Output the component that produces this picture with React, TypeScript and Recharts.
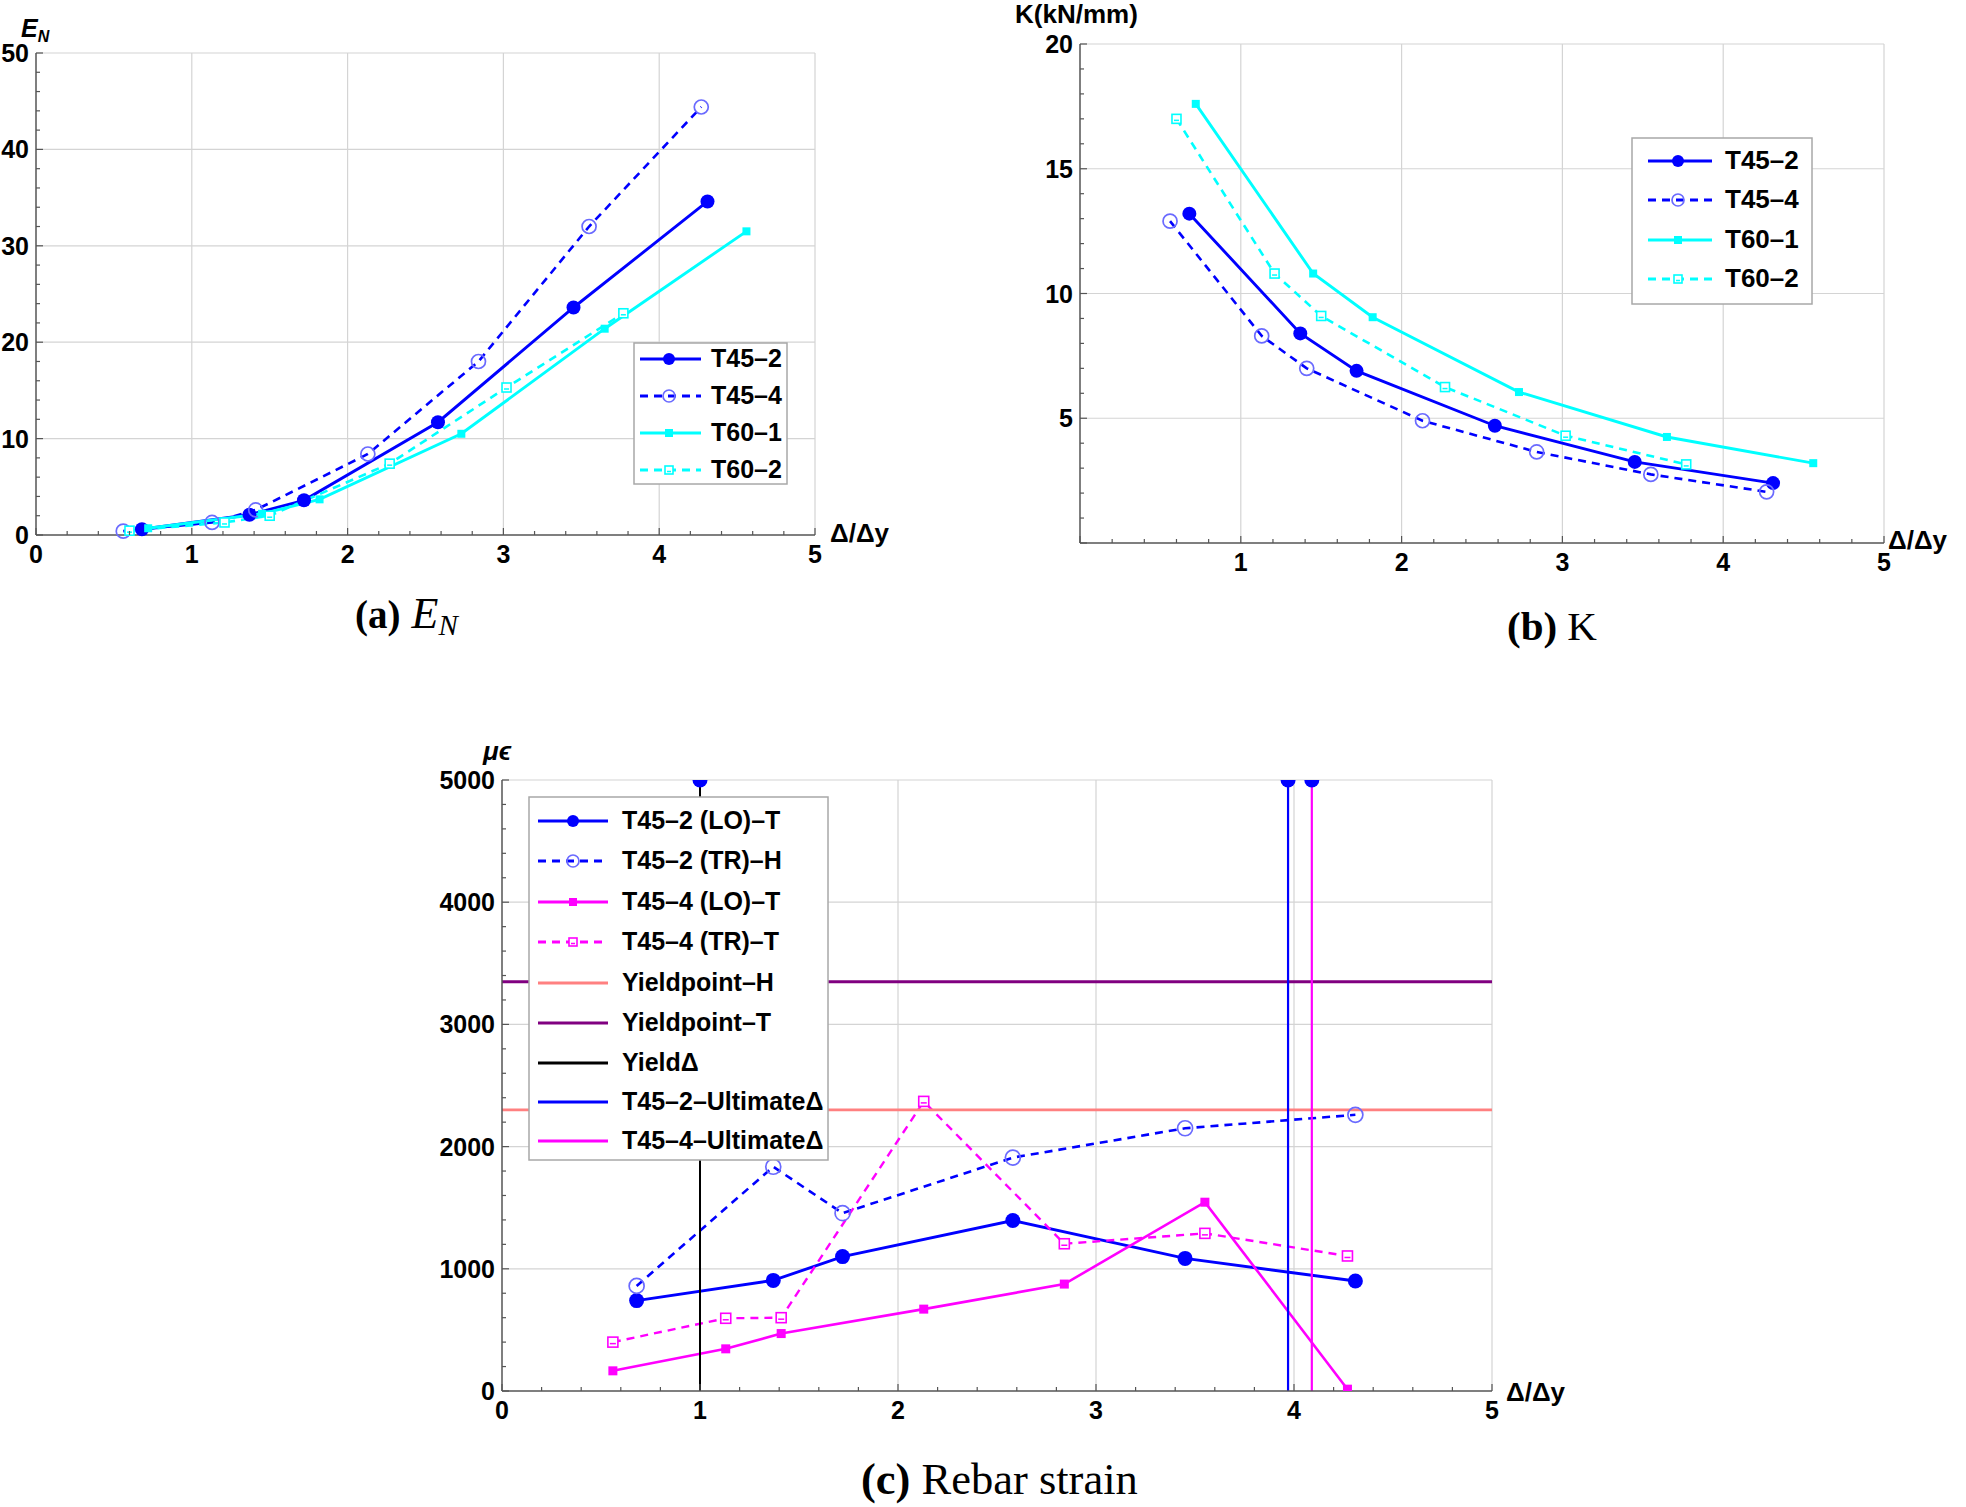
import React from 'react';
import { LineChart, Line, XAxis, YAxis, ReferenceLine, Legend } from 'recharts';

const FONT = "'Liberation Sans', Arial, Helvetica, sans-serif";
const SERIF = "'Liberation Serif', 'Times New Roman', serif";

const BLUE = '#0000ff';
const OPEN_BLUE = '#6a6aff';
const CYAN = '#00ffff';
const MAGENTA = '#ff00ff';
const PINK = '#ff8080';
const PURPLE = '#800080';
const BLACK = '#000000';
const GRID = '#d4d4d4';
const AXIS = '#555555';

// ---- x positions (Δ/Δy) ----
const xT45_2 = [0.68, 1.37, 1.72, 2.58, 3.45, 4.31];
const xT45_4 = [0.56, 1.13, 1.41, 2.13, 2.84, 3.55, 4.27];
const xT60_1 = [0.72, 1.45, 1.82, 2.73, 3.65, 4.56];
const xT60_2 = [0.6, 1.21, 1.5, 2.27, 3.02, 3.77];

// ---- (a) E_N ----
const enT45_2 = [0.6, 2.1, 3.6, 11.7, 23.6, 34.6];
const enT45_4 = [0.4, 1.3, 2.6, 8.4, 18.0, 32.0, 44.4];
const enT60_1 = [0.7, 2.2, 3.7, 10.5, 21.4, 31.5];
const enT60_2 = [0.45, 1.3, 2.0, 7.4, 15.3, 23.0];

// ---- (b) K (kN/mm) ----
const kT45_2 = [13.2, 8.4, 6.9, 4.7, 3.25, 2.4];
const kT45_4 = [12.9, 8.3, 7.0, 4.9, 3.65, 2.75, 2.05];
const kT60_1 = [17.6, 10.8, 9.05, 6.05, 4.25, 3.2];
const kT60_2 = [17.0, 10.8, 9.1, 6.25, 4.3, 3.15];

// ---- (c) rebar strain (με) ----
const sT45_2_LO = [740, 905, 1100, 1395, 1085, 900];
const sT45_2_TR = [860, 1835, 1455, 1910, 2150, 2260];
const sT45_4_LO = [165, 345, 470, 670, 875, 1545, 15];
const sT45_4_TR = [400, 595, 600, 2370, 1205, 1290, 1105];
const yieldPointH = 2300;
const yieldPointT = 3350;
const yieldDelta = 1;
const ultimateT45_2 = 3.97;
const ultimateT45_4 = 4.09;
const strainTop = 5000;

// ---- tick labels ----
const xMajor = [0, 1, 2, 3, 4, 5];
const xLabelsA = [0, 1, 2, 3, 4, 5];
const xLabelsB = [1, 2, 3, 4, 5];
const xLabelsC = [0, 1, 2, 3, 4, 5];
const yLabelsA = [0, 10, 20, 30, 40, 50];
const yLabelsB = [5, 10, 15, 20];
const yMajorB = [0, 5, 10, 15, 20];
const yLabelsC = [0, 1000, 2000, 3000, 4000, 5000];
const gridX = [1, 2, 3, 4, 5];
const gridYA = [10, 20, 30, 40, 50];
const gridYB = [5, 10, 15, 20];
const gridYC = [1000, 2000, 3000, 4000, 5000];

const range = (start: number, end: number, step: number) => {
  const out: number[] = [];
  const n = Math.round((end - start) / step);
  for (let i = 0; i <= n; i++) out.push(+(start + i * step).toFixed(6));
  return out;
};
const xMinor = range(0, 5, 0.2);
const yMinorA = range(0, 50, 2);
const yMinorB = range(0, 20, 1);
const yMinorC = range(0, 5000, 200);

const pts = (xs: number[], ys: number[]) => xs.map((x, i) => ({ x, y: ys[i] }));
const has = (arr: number[], v: number) => arr.some((m) => Math.abs(m - v) < 1e-6);

type Kind = 'disc' | 'ring' | 'square' | 'openSquare';

function Marker({ kind, cx, cy, color, size }: { kind: Kind; cx: number; cy: number; color: string; size: number }) {
  if (cx == null || cy == null || isNaN(cx) || isNaN(cy)) return <g />;
  switch (kind) {
    case 'disc':
      return <circle cx={cx} cy={cy} r={size} fill={color} />;
    case 'ring':
      return <circle cx={cx} cy={cy} r={size} fill="none" stroke={color} strokeWidth={1.7} />;
    case 'square':
      return <rect x={cx - size / 2} y={cy - size / 2} width={size} height={size} fill={color} />;
    case 'openSquare':
      return (
        <g>
          <rect x={cx - size / 2} y={cy - size / 2} width={size} height={size} fill="#fff" stroke={color} strokeWidth={1.6} />
          <line x1={cx - size / 2 + 2} x2={cx + size / 2 - 2} y1={cy + 1.5} y2={cy + 1.5} stroke={color} strokeWidth={1.5} />
        </g>
      );
  }
  return <g />;
}

const dotFn = (kind: Kind, color: string, size: number) => (p: any) => (
  <Marker key={`m-${p.index}`} kind={kind} cx={p.cx} cy={p.cy} color={color} size={size} />
);
const topDotFn = (color: string, size: number) => (p: any) =>
  p.index === 1 ? <Marker key={`t-${p.index}`} kind="disc" cx={p.cx} cy={p.cy} color={color} size={size} /> : <g key={`t-${p.index}`} />;

const TICK_FONT = 25;

function XTick(props: any) {
  const { x, y, payload, labels, majors } = props;
  const v = payload.value;
  const major = has(majors, v);
  return (
    <g>
      <line x1={x} x2={x} y1={y} y2={y - (major ? 7 : 4)} stroke={AXIS} strokeWidth={1.2} />
      {has(labels, v) && (
        <text x={x} y={y + 19} textAnchor="middle" dominantBaseline="central" fontFamily={FONT} fontWeight="bold" fontSize={TICK_FONT} fill="#000">
          {v}
        </text>
      )}
    </g>
  );
}

function YTick(props: any) {
  const { x, y, payload, labels, majors } = props;
  const v = payload.value;
  const major = has(majors, v);
  return (
    <g>
      <line x1={x} x2={x + (major ? 7 : 4)} y1={y} y2={y} stroke={AXIS} strokeWidth={1.2} />
      {has(labels, v) && (
        <text x={x - 7} y={y} textAnchor="end" dominantBaseline="central" fontFamily={FONT} fontWeight="bold" fontSize={TICK_FONT} fill="#000">
          {v}
        </text>
      )}
    </g>
  );
}

type Item = { name: string; color: string; dash?: string; kind?: Kind; markerColor?: string; width?: number };

function LegendBox(props: {
  W: number; H: number; bx: number; by: number; bw: number; bh: number;
  rows: number[]; lx0: number; lx1: number; mx: number; tx: number; fontSize: number; items: Item[];
}) {
  const { W, H, bx, by, bw, bh, rows, lx0, lx1, mx, tx, fontSize, items } = props;
  return (
    <svg width={W} height={H} style={{ display: 'block', pointerEvents: 'none' }}>
      <rect x={bx} y={by} width={bw} height={bh} fill="#fff" stroke="#a8a8a8" strokeWidth={1.5} />
      {items.map((it, i) => {
        const y = by + rows[i];
        return (
          <g key={it.name}>
            <line x1={bx + lx0} x2={bx + lx1} y1={y} y2={y} stroke={it.color} strokeWidth={it.width ?? 2.8} strokeDasharray={it.dash} />
            {it.kind && (
              <Marker kind={it.kind} cx={bx + mx} cy={y} color={it.markerColor ?? it.color} size={it.kind === 'disc' || it.kind === 'ring' ? 6 : 8} />
            )}
            <text x={bx + tx} y={y - 1} dominantBaseline="central" fontFamily={FONT} fontWeight="bold" fontSize={fontSize} fill="#000">
              {it.name}
            </text>
          </g>
        );
      })}
    </svg>
  );
}

const DASH = '8 6';
const axisLineStyle = { stroke: AXIS, strokeWidth: 1.5 };

const itemsAB: Item[] = [
  { name: 'T45–2', color: BLUE, kind: 'disc' },
  { name: 'T45–4', color: BLUE, dash: DASH, kind: 'ring', markerColor: OPEN_BLUE },
  { name: 'T60–1', color: CYAN, kind: 'square' },
  { name: 'T60–2', color: CYAN, dash: DASH, kind: 'openSquare' },
];

const itemsC: Item[] = [
  { name: 'T45–2 (LO)–T', color: BLUE, kind: 'disc' },
  { name: 'T45–2 (TR)–H', color: BLUE, dash: DASH, kind: 'ring', markerColor: OPEN_BLUE },
  { name: 'T45–4 (LO)–T', color: MAGENTA, kind: 'square' },
  { name: 'T45–4 (TR)–T', color: MAGENTA, dash: DASH, kind: 'openSquare' },
  { name: 'Yieldpoint–H', color: PINK },
  { name: 'Yieldpoint–T', color: PURPLE, width: 3 },
  { name: 'YieldΔ', color: BLACK },
  { name: 'T45–2–UltimateΔ', color: BLUE },
  { name: 'T45–4–UltimateΔ', color: MAGENTA },
];

function ChartA() {
  const W = 900, H = 600;
  return (
    <LineChart width={W} height={H} margin={{ top: 53, right: 85, bottom: 0, left: 0 }}>
      <XAxis type="number" dataKey="x" domain={[0, 5]} ticks={xMinor} interval={0} tickSize={0} tickMargin={0} tickLine={false}
        axisLine={axisLineStyle} height={65} tick={(p: any) => <XTick {...p} labels={xLabelsA} majors={xMajor} />} />
      <YAxis type="number" domain={[0, 50]} ticks={yMinorA} interval={0} tickSize={0} tickMargin={0} tickLine={false}
        axisLine={axisLineStyle} width={36} tick={(p: any) => <YTick {...p} labels={yLabelsA} majors={yLabelsA} />} />
      {gridX.map((v) => <ReferenceLine key={`gx${v}`} x={v} stroke={GRID} strokeWidth={1.2} zIndex={-10} />)}
      {gridYA.map((v) => <ReferenceLine key={`gy${v}`} y={v} stroke={GRID} strokeWidth={1.2} zIndex={-10} />)}
      <Line data={pts(xT45_2, enT45_2)} dataKey="y" stroke={BLUE} strokeWidth={2.9} isAnimationActive={false} dot={dotFn('disc', BLUE, 7)} activeDot={false} />
      <Line data={pts(xT45_4, enT45_4)} dataKey="y" stroke={BLUE} strokeWidth={2.6} strokeDasharray={DASH} isAnimationActive={false} dot={dotFn('ring', OPEN_BLUE, 7)} activeDot={false} />
      <Line data={pts(xT60_1, enT60_1)} dataKey="y" stroke={CYAN} strokeWidth={2.9} isAnimationActive={false} dot={dotFn('square', CYAN, 8)} activeDot={false} />
      <Line data={pts(xT60_2, enT60_2)} dataKey="y" stroke={CYAN} strokeWidth={2.6} strokeDasharray={DASH} isAnimationActive={false} dot={dotFn('openSquare', CYAN, 9)} activeDot={false} />
      <Legend layout="vertical" align="center" verticalAlign="middle" wrapperStyle={{ left: 0, top: 0, width: W, height: H }}
        content={() => <LegendBox W={W} H={H} bx={634} by={343} bw={153} bh={141} rows={[16, 53, 90, 127]} lx0={6} lx1={67} mx={35} tx={77} fontSize={25} items={itemsAB} />} />
    </LineChart>
  );
}

function ChartB() {
  const W = 966, H = 600;
  return (
    <LineChart width={W} height={H} margin={{ top: 44, right: 82, bottom: 0, left: 0 }}>
      <XAxis type="number" dataKey="x" domain={[0, 5]} ticks={xMinor} interval={0} tickSize={0} tickMargin={0} tickLine={false}
        axisLine={axisLineStyle} height={57} tick={(p: any) => <XTick {...p} labels={xLabelsB} majors={xMajor} />} />
      <YAxis type="number" domain={[0, 20]} ticks={yMinorB} interval={0} tickSize={0} tickMargin={0} tickLine={false}
        axisLine={axisLineStyle} width={80} tick={(p: any) => <YTick {...p} labels={yLabelsB} majors={yMajorB} />} />
      {gridX.map((v) => <ReferenceLine key={`gx${v}`} x={v} stroke={GRID} strokeWidth={1.2} zIndex={-10} />)}
      {gridYB.map((v) => <ReferenceLine key={`gy${v}`} y={v} stroke={GRID} strokeWidth={1.2} zIndex={-10} />)}
      <Line data={pts(xT45_2, kT45_2)} dataKey="y" stroke={BLUE} strokeWidth={2.9} isAnimationActive={false} dot={dotFn('disc', BLUE, 7)} activeDot={false} />
      <Line data={pts(xT45_4, kT45_4)} dataKey="y" stroke={BLUE} strokeWidth={2.6} strokeDasharray={DASH} isAnimationActive={false} dot={dotFn('ring', OPEN_BLUE, 7)} activeDot={false} />
      <Line data={pts(xT60_1, kT60_1)} dataKey="y" stroke={CYAN} strokeWidth={2.9} isAnimationActive={false} dot={dotFn('square', CYAN, 8)} activeDot={false} />
      <Line data={pts(xT60_2, kT60_2)} dataKey="y" stroke={CYAN} strokeWidth={2.6} strokeDasharray={DASH} isAnimationActive={false} dot={dotFn('openSquare', CYAN, 9)} activeDot={false} />
      <Legend layout="vertical" align="center" verticalAlign="middle" wrapperStyle={{ left: 0, top: 0, width: W, height: H }}
        content={() => <LegendBox W={W} H={H} bx={632} by={138} bw={180} bh={166} rows={[23, 62, 102, 141]} lx0={16} lx1={80} mx={46} tx={93} fontSize={26} items={itemsAB} />} />
    </LineChart>
  );
}

function ChartC() {
  const W = 1200, H = 760;
  return (
    <LineChart width={W} height={H} margin={{ top: 80, right: 108, bottom: 0, left: 0 }}>
      <XAxis type="number" dataKey="x" domain={[0, 5]} ticks={xMinor} interval={0} tickSize={0} tickMargin={0} tickLine={false}
        axisLine={axisLineStyle} height={69} tick={(p: any) => <XTick {...p} labels={xLabelsC} majors={xMajor} />} />
      <YAxis type="number" domain={[0, 5000]} allowDataOverflow ticks={yMinorC} interval={0} tickSize={0} tickMargin={0} tickLine={false}
        axisLine={axisLineStyle} width={102} tick={(p: any) => <YTick {...p} labels={yLabelsC} majors={yLabelsC} />} />
      {gridX.map((v) => <ReferenceLine key={`gx${v}`} x={v} stroke={GRID} strokeWidth={1.2} zIndex={-10} />)}
      {gridYC.map((v) => <ReferenceLine key={`gy${v}`} y={v} stroke={GRID} strokeWidth={1.2} zIndex={-10} />)}
      <Line data={pts(xT45_2, sT45_2_LO)} dataKey="y" stroke={BLUE} strokeWidth={2.9} isAnimationActive={false} dot={dotFn('disc', BLUE, 7.5)} activeDot={false} />
      <Line data={pts(xT45_2, sT45_2_TR)} dataKey="y" stroke={BLUE} strokeWidth={2.6} strokeDasharray={DASH} isAnimationActive={false} dot={dotFn('ring', OPEN_BLUE, 7.5)} activeDot={false} />
      <Line data={pts(xT45_4, sT45_4_LO)} dataKey="y" stroke={MAGENTA} strokeWidth={2.6} isAnimationActive={false} dot={dotFn('square', MAGENTA, 9)} activeDot={false} />
      <Line data={pts(xT45_4, sT45_4_TR)} dataKey="y" stroke={MAGENTA} strokeWidth={2.4} strokeDasharray={DASH} isAnimationActive={false} dot={dotFn('openSquare', MAGENTA, 10)} activeDot={false} />
      <Line data={pts([0, 5], [yieldPointH, yieldPointH])} dataKey="y" stroke={PINK} strokeWidth={2.8} isAnimationActive={false} dot={false} activeDot={false} />
      <Line data={pts([0, 5], [yieldPointT, yieldPointT])} dataKey="y" stroke={PURPLE} strokeWidth={3} isAnimationActive={false} dot={false} activeDot={false} />
      <Line data={pts([yieldDelta, yieldDelta], [0, strainTop])} dataKey="y" stroke={BLACK} strokeWidth={2} isAnimationActive={false} dot={topDotFn(BLUE, 7.5)} activeDot={false} />
      <Line data={pts([ultimateT45_2, ultimateT45_2], [0, strainTop])} dataKey="y" stroke={BLUE} strokeWidth={2.2} isAnimationActive={false} dot={topDotFn(BLUE, 7.5)} activeDot={false} />
      <Line data={pts([ultimateT45_4, ultimateT45_4], [0, strainTop])} dataKey="y" stroke={MAGENTA} strokeWidth={2.2} isAnimationActive={false} dot={topDotFn(BLUE, 7.5)} activeDot={false} />
      <Legend layout="vertical" align="center" verticalAlign="middle" wrapperStyle={{ left: 0, top: 0, width: W, height: H }}
        content={() => <LegendBox W={W} H={H} bx={129} by={97} bw={299} bh={363} rows={[24, 64, 105, 145, 186, 226, 266, 305, 344]} lx0={9} lx1={79} mx={44} tx={93} fontSize={25} items={itemsC} />} />
    </LineChart>
  );
}

function Overlay() {
  const lab = { fontFamily: FONT, fontWeight: 'bold' as const, fill: '#000' };
  return (
    <svg width={1966} height={1507} style={{ position: 'absolute', left: 0, top: 0, pointerEvents: 'none' }}>
      <text x={21} y={37} {...lab} fontStyle="italic" fontSize={25}>
        E<tspan fontSize={16} dy={5}>N</tspan>
      </text>
      <text x={830} y={542} {...lab} fontSize={26}>Δ/Δy</text>
      <text x={1015} y={23} {...lab} fontSize={26}>K(kN/mm)</text>
      <text x={1888} y={549} {...lab} fontSize={26}>Δ/Δy</text>
      <text x={483} y={760} {...lab} fontStyle="italic" fontSize={26}>μϵ</text>
      <text x={1506} y={1401} {...lab} fontSize={26}>Δ/Δy</text>

      <text x={355} y={628} fontFamily={SERIF} fontSize={39} fill="#000">
        <tspan fontWeight="bold">(a)</tspan>
        <tspan fontStyle="italic" fontSize={44}> E</tspan>
        <tspan fontStyle="italic" fontSize={29} dy={7}>N</tspan>
      </text>
      <text x={1507} y={640} fontFamily={SERIF} fontSize={41} fill="#000">
        <tspan fontWeight="bold">(b)</tspan>
        <tspan> K</tspan>
      </text>
      <text x={861} y={1494} fontFamily={SERIF} fontSize={44.5} fill="#000">
        <tspan fontWeight="bold">(c)</tspan>
        <tspan> Rebar strain</tspan>
      </text>
    </svg>
  );
}

export default function App() {
  return (
    <div style={{ position: 'absolute', left: 0, top: 0, width: 1966, height: 1507, background: '#fff', overflow: 'hidden' }}>
      <div style={{ position: 'absolute', left: 0, top: 0 }}>
        <ChartA />
      </div>
      <div style={{ position: 'absolute', left: 1000, top: 0 }}>
        <ChartB />
      </div>
      <div style={{ position: 'absolute', left: 400, top: 700 }}>
        <ChartC />
      </div>
      <Overlay />
    </div>
  );
}
